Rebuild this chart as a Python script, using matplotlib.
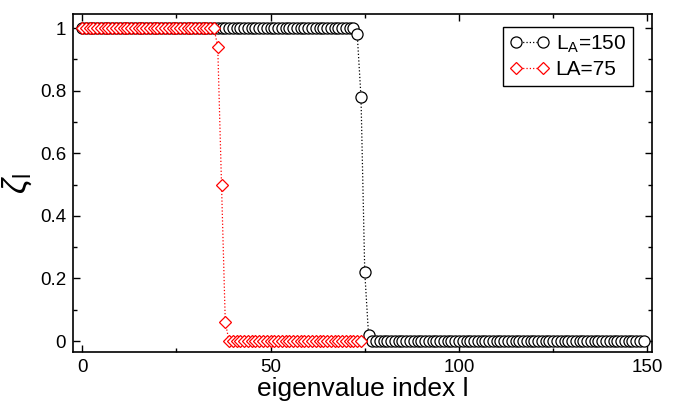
import matplotlib
matplotlib.use("Agg")
import matplotlib.pyplot as plt
import numpy as np
from matplotlib.ticker import MultipleLocator

plt.rcParams['font.family'] = ['Liberation Sans', 'DejaVu Sans']
plt.rcParams['mathtext.fontset'] = 'custom'
plt.rcParams['mathtext.rm'] = 'Liberation Sans'
plt.rcParams['mathtext.it'] = 'Liberation Sans:italic'

# occupation spectrum zeta_l for the two subsystem sizes
zeta_150 = [1.0] * 73 + [0.98, 0.78, 0.22, 0.02] + [0.0] * 73
zeta_75 = [1.0] * 36 + [0.94, 0.50, 0.06] + [0.0] * 36
idx_150 = np.arange(len(zeta_150))
idx_75 = np.arange(len(zeta_75))

fig = plt.figure(figsize=(6.84, 4.05), dpi=100)
fig.subplots_adjust(left=73 / 684, right=652 / 684, top=1 - 14 / 405, bottom=1 - 352 / 405)
ax = fig.add_subplot()

ax.plot(idx_150, zeta_150, linestyle=':', color='black', linewidth=0.9,
        marker='o', markersize=8, markerfacecolor='white', markeredgecolor='black',
        markeredgewidth=0.9, label=r'L$_\mathrm{A}$=150')
ax.plot(idx_75, zeta_75, linestyle=':', color='red', linewidth=0.9,
        marker='D', markersize=6, markerfacecolor='white', markeredgecolor='red',
        markeredgewidth=0.9, label='LA=75')

ax.set_xlim(-2.4, 151.2)
ax.set_ylim(-0.035, 1.045)
ax.xaxis.set_major_locator(MultipleLocator(50))
ax.xaxis.set_minor_locator(MultipleLocator(25))
ax.yaxis.set_major_locator(MultipleLocator(0.2))
ax.yaxis.set_minor_locator(MultipleLocator(0.1))
ax.set_yticks([0, 0.2, 0.4, 0.6, 0.8, 1.0])
ax.set_yticklabels(['0', '0.2', '0.4', '0.6', '0.8', '1'])

ax.tick_params(which='both', direction='in', top=True, right=True, labelsize=13.5)
ax.tick_params(which='major', length=5, width=1, pad=5)
ax.tick_params(which='minor', length=3, width=1)
for s in ax.spines.values():
    s.set_linewidth(1.2)

ax.set_xlabel('eigenvalue index l', fontsize=19, labelpad=1)
ax.set_ylabel(r'$\zeta_\mathrm{l}$', fontsize=24, labelpad=4)

leg = ax.legend(loc='upper right', bbox_to_anchor=(0.967, 0.962), numpoints=2,
                fontsize=15, fancybox=False, framealpha=1, edgecolor='black',
                borderaxespad=0, handlelength=1.9, handletextpad=0.3,
                borderpad=0.33, labelspacing=0.25)
leg.get_frame().set_linewidth(1.0)

fig.savefig('out.png', dpi=100)
